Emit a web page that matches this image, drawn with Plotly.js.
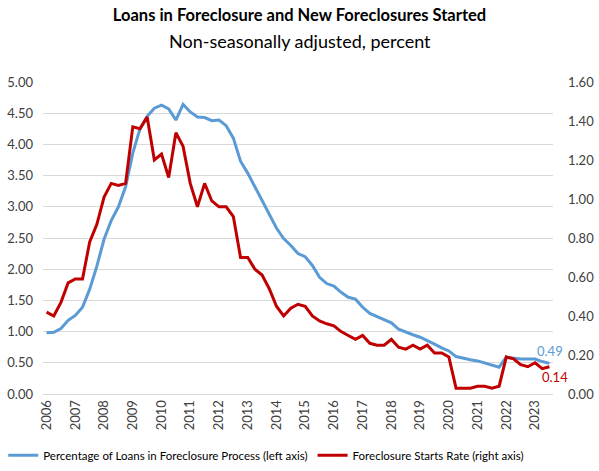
<!DOCTYPE html>
<html>
<head>
<meta charset="utf-8">
<script src="https://cdn.plot.ly/plotly-3.0.1.min.js"></script>
<style>
  html, body { margin: 0; padding: 0; background: #fff; }
  #chart { width: 599px; height: 471px; }
</style>
</head>
<body>
<div id="chart"></div>
<script>
// quarterly, 2006 Q1 .. 2023 Q3
const firstYear = 2006;
const yearLabels = ["2006", "2007", "2008", "2009", "2010", "2011", "2012", "2013", "2014",
    "2015", "2016", "2017", "2018", "2019", "2020", "2021", "2022", "2023"];

// percentage of loans in foreclosure process (left axis)
const inForeclosure = [
    0.98, 0.99, 1.05, 1.18, 1.26, 1.39, 1.68, 2.05, 2.48, 2.78,
    3.00, 3.32, 3.86, 4.25, 4.45, 4.58, 4.63, 4.57, 4.39, 4.64,
    4.52, 4.44, 4.43, 4.38, 4.39, 4.30, 4.10, 3.73, 3.54, 3.32,
    3.10, 2.88, 2.66, 2.49, 2.38, 2.25, 2.20, 2.06, 1.87, 1.77,
    1.73, 1.63, 1.55, 1.52, 1.39, 1.29, 1.24, 1.19, 1.14, 1.04,
    0.99, 0.95, 0.91, 0.86, 0.80, 0.74, 0.69, 0.60, 0.57, 0.55,
    0.53, 0.50, 0.46, 0.43, 0.59, 0.57, 0.56, 0.56, 0.56, 0.52,
    0.49
];

// foreclosure starts rate (right axis)
const startsRate = [
    0.42, 0.40, 0.47, 0.57, 0.59, 0.59, 0.78, 0.87, 1.01, 1.08,
    1.07, 1.08, 1.37, 1.36, 1.42, 1.20, 1.23, 1.11, 1.34, 1.27,
    1.08, 0.96, 1.08, 0.99, 0.96, 0.96, 0.91, 0.70, 0.70, 0.64,
    0.61, 0.54, 0.45, 0.40, 0.44, 0.46, 0.45, 0.40, 0.375, 0.36,
    0.35, 0.32, 0.30, 0.28, 0.30, 0.26, 0.25, 0.25, 0.28, 0.24,
    0.23, 0.25, 0.23, 0.25, 0.21, 0.21, 0.19, 0.03, 0.03, 0.03,
    0.04, 0.04, 0.03, 0.04, 0.19, 0.18, 0.15, 0.14, 0.16, 0.13,
    0.14
];

const quarters = inForeclosure.map((_, i) =>
    `${firstYear + Math.floor(i / 4)} Q${i % 4 + 1}`);

const FONT = "Lato, 'Open Sans', sans-serif";
const BLUE = "#5B9BD5";
const RED = "#C00000";
const last = quarters.length - 1;

const traces = [
    {
        x: quarters,
        y: inForeclosure,
        type: "scatter",
        mode: "lines",
        name: "Percentage of Loans in Foreclosure Process (left axis)",
        line: {color: BLUE, width: 3}
    },
    {
        x: quarters,
        y: startsRate,
        type: "scatter",
        mode: "lines",
        yaxis: "y2",
        name: "Foreclosure Starts Rate (right axis)",
        line: {color: RED, width: 3}
    }
];

const layout = {
    width: 599,
    height: 471,
    margin: {l: 43, r: 46, t: 82, b: 77, autoexpand: false},
    paper_bgcolor: "#fff",
    plot_bgcolor: "#fff",
    font: {family: FONT, color: "#404040", size: 13},
    title: {
        text: "Loans in Foreclosure and New Foreclosures Started",
        font: {family: FONT, size: 16.5, weight: "bold", color: "#000"},
        x: 0.5, xanchor: "center",
        y: 0.968, yanchor: "middle"
    },
    xaxis: {
        type: "category",
        range: [-0.5, last + 0.5],
        tickvals: yearLabels.map(y => y + " Q1"),
        ticktext: yearLabels,
        tickangle: -90,
        showgrid: false,
        showline: true,
        linecolor: "#D9D9D9",
        ticks: "",
        automargin: false,
        tickfont: {size: 13, color: "#404040"}
    },
    yaxis: {
        range: [0, 5],
        dtick: 0.5,
        tickformat: ".2f",
        gridcolor: "#D9D9D9",
        zeroline: false,
        ticks: "",
        automargin: false,
        ticklabelstandoff: 9,
        tickfont: {size: 13, color: "#404040"}
    },
    yaxis2: {
        overlaying: "y",
        side: "right",
        range: [0, 1.6],
        dtick: 0.2,
        tickformat: ".2f",
        showgrid: false,
        zeroline: false,
        ticks: "",
        automargin: false,
        ticklabelstandoff: 14,
        tickfont: {size: 13, color: "#404040"}
    },
    legend: {
        orientation: "h",
        x: -0.078, xanchor: "left",
        y: -0.196, yanchor: "middle",
        font: {size: 11.5, color: "#000"},
        itemwidth: 30
    },
    annotations: [
        {
            text: "Non-seasonally adjusted, percent",
            xref: "paper", yref: "paper",
            x: 0.504, y: 1.131, yanchor: "middle",
            showarrow: false,
            font: {family: FONT, size: 18, color: "#000"}
        },
        {
            text: inForeclosure[last].toFixed(2),
            x: quarters[last], y: inForeclosure[last],
            xref: "x", yref: "y",
            showarrow: false,
            xshift: 1, yshift: 12,
            font: {size: 13, color: BLUE}
        },
        {
            text: startsRate[last].toFixed(2),
            x: quarters[last], y: startsRate[last],
            xref: "x", yref: "y2",
            showarrow: false,
            xshift: 6, yshift: -10,
            font: {size: 13, color: RED}
        }
    ]
};

Plotly.newPlot("chart", traces, layout, {displayModeBar: false});
</script>
</body>
</html>
